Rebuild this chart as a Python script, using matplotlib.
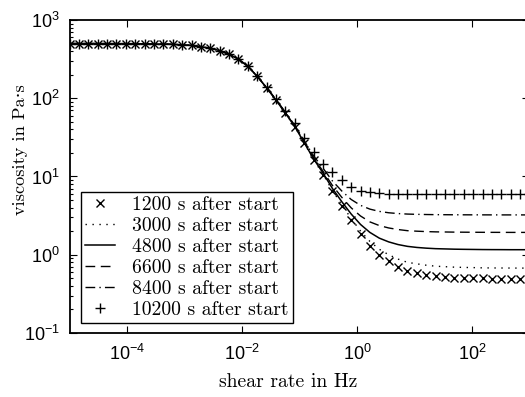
import numpy as np
import matplotlib
matplotlib.use("Agg")
import matplotlib.pyplot as plt
from matplotlib.ticker import NullLocator, FixedLocator, LogFormatterSciNotation, LogLocator

# ---------------- data ----------------
log_shear_rate = [-5.0, -4.837, -4.673, -4.510, -4.347, -4.184, -4.020, -3.857, -3.694, -3.531,
                  -3.367, -3.204, -3.041, -2.878, -2.714, -2.551, -2.388, -2.224, -2.061, -1.898,
                  -1.735, -1.571, -1.408, -1.245, -1.082, -0.918, -0.755, -0.592, -0.429, -0.265,
                  -0.102, 0.061, 0.224, 0.388, 0.551, 0.714, 0.878, 1.041, 1.204, 1.367,
                  1.531, 1.694, 1.857, 2.020, 2.184, 2.347, 2.510, 2.673, 2.837, 3.0]

visc_1200 = [500, 500, 500, 500, 499, 499, 499, 498, 497, 495,
             492, 488, 482, 473, 456, 436, 405, 365, 315, 255,
             190, 135, 94, 64, 43, 26.5, 16.3, 10.6, 6.5, 4.2,
             2.75, 1.85, 1.31, 1.0, 0.82, 0.70, 0.62, 0.58, 0.55, 0.53,
             0.52, 0.51, 0.505, 0.50, 0.50, 0.495, 0.495, 0.49, 0.49, 0.49]

visc_3000 = [500, 500, 500, 500, 499, 499, 499, 498, 497, 495,
             492, 488, 482, 473, 456, 436, 405, 365, 315, 255,
             190, 135, 94.1, 64.2, 43.2, 26.7, 16.4, 10.7, 6.66, 4.36,
             2.91, 2.01, 1.48, 1.175, 1.0, 0.88, 0.80, 0.765, 0.735, 0.714,
             0.704, 0.694, 0.689, 0.685, 0.68, 0.678, 0.677, 0.676, 0.675, 0.675]

visc_4800 = [500, 500, 500, 500, 499, 499, 499, 498, 497, 495,
             492, 488, 482, 473, 456.1, 436.1, 405.1, 365.2, 315.3, 255.3,
             190.4, 135.5, 94.6, 64.6, 43.5, 27.0, 16.8, 11.1, 7.06, 4.77,
             3.32, 2.44, 1.93, 1.63, 1.46, 1.35, 1.28, 1.24, 1.214, 1.196,
             1.187, 1.178, 1.173, 1.169, 1.165, 1.163, 1.162, 1.16, 1.16, 1.16]

visc_6600 = [500, 500, 500, 500, 499, 499, 499, 498, 497, 495,
             492, 488, 482, 473, 456.1, 436.2, 405.3, 365.4, 315.5, 255.7,
             190.9, 136.0, 95.2, 65.3, 44.1, 27.6, 17.4, 11.7, 7.71, 5.42,
             3.98, 3.13, 2.63, 2.36, 2.20, 2.10, 2.03, 2.00, 1.977, 1.961,
             1.954, 1.946, 1.942, 1.938, 1.935, 1.933, 1.932, 1.93, 1.93, 1.93]

visc_8400 = [500, 500, 500, 500, 499, 499, 499, 498, 497, 495,
             492, 488, 482, 473.1, 456.2, 436.4, 405.5, 365.7, 316.0, 256.3,
             191.7, 137.0, 96.2, 66.4, 45.1, 28.6, 18.4, 12.8, 8.8, 6.53,
             5.09, 4.28, 3.83, 3.58, 3.44, 3.36, 3.31, 3.284, 3.266, 3.254,
             3.248, 3.242, 3.239, 3.236, 3.234, 3.232, 3.23, 3.23, 3.23, 3.23]

visc_10200 = [500, 500, 500, 500, 499, 499, 499, 498, 497, 495,
              492, 488, 482, 473.3, 456.5, 436.7, 406.0, 366.5, 317.0, 257.7,
              193.4, 139.0, 98.4, 68.7, 48.0, 31.0, 20.5, 14.6, 11.4, 8.9,
              7.3, 6.6, 6.3, 6.1, 6.0, 5.95, 5.93, 5.92, 5.91, 5.9,
              5.9, 5.9, 5.9, 5.9, 5.9, 5.9, 5.9, 5.9, 5.9, 5.9]

series_labels = ["1200 s after start", "3000 s after start", "4800 s after start",
                 "6600 s after start", "8400 s after start", "10200 s after start"]

x_tick_values = [1e-4, 1e-2, 1e0, 1e2]
y_tick_values = [1e-1, 1e0, 1e1, 1e2, 1e3]

# ---------------- styling ----------------
plt.rcParams["mathtext.fontset"] = "custom"
plt.rcParams["mathtext.rm"] = "Liberation Sans"
plt.rcParams["mathtext.it"] = "Liberation Sans:italic"
plt.rcParams["mathtext.bf"] = "Liberation Sans:bold"
plt.rcParams["font.family"] = ["Liberation Sans", "DejaVu Sans"]
serif = ["cmr10", "DejaVu Serif"]

shear_rate = 10 ** np.array(log_shear_rate)

fig = plt.figure(figsize=(5.25, 3.97), dpi=100)
W, H = 525.0, 397.0
ax = fig.add_axes([69.5 / W, 1 - 333 / H, 460 / W, 313 / H])

ax.plot(shear_rate, visc_1200, ls="none", marker="x", ms=5.5, mew=1.0, color="k",
        label=series_labels[0], zorder=4)
ax.plot(shear_rate, visc_3000, ls=(0, (1, 4)), lw=1.0, color="k", label=series_labels[1])
ax.plot(shear_rate, visc_4800, ls="-", lw=1.1, color="k", label=series_labels[2])
ax.plot(shear_rate, visc_6600, ls=(0, (7, 4)), lw=1.0, color="k", label=series_labels[3])
ax.plot(shear_rate, visc_8400, ls=(0, (7, 3, 1, 3)), lw=1.0, color="k", label=series_labels[4])
ax.plot(shear_rate, visc_10200, ls="none", marker="+", ms=7, mew=1.0, color="k",
        label=series_labels[5], zorder=4)

ax.set_xscale("log")
ax.set_yscale("log")
ax.set_xlim(1e-5, 1e3)
ax.set_ylim(1e-1, 1e3)

ax.xaxis.set_major_locator(FixedLocator(x_tick_values))
ax.xaxis.set_major_formatter(LogFormatterSciNotation())
ax.xaxis.set_minor_locator(NullLocator())
ax.yaxis.set_major_locator(FixedLocator(y_tick_values))
ax.yaxis.set_major_formatter(LogFormatterSciNotation())
ax.yaxis.set_minor_locator(LogLocator(base=10, subs=np.arange(2, 10)))

ax.tick_params(which="both", direction="in", top=True, right=True, width=0.8, colors="k")
ax.tick_params(which="major", length=5, labelsize=13)
ax.tick_params(which="minor", length=2.5)
ax.tick_params(axis="x", pad=8)
ax.tick_params(axis="y", pad=7)

for s in ax.spines.values():
    s.set_linewidth(1.3)
    s.set_color("k")

ax.set_xlabel("shear rate in Hz", fontfamily=serif, fontsize=14.2)
ax.xaxis.label.set_va("center")
ax.xaxis.set_label_coords(0.475, -0.156)
ax.set_ylabel("viscosity in Pa·s", fontfamily=serif, fontsize=13.2)
ax.yaxis.label.set_va("center")
ax.yaxis.label.set_ha("center")
ax.yaxis.label.set_rotation_mode("default")
ax.yaxis.set_label_coords(-0.1076, 0.585)

leg = ax.legend(loc="lower left", bbox_to_anchor=(81 / W, 1 - 323 / H),
                bbox_transform=fig.transFigure, prop={"family": serif, "size": 14.2},
                frameon=True, fancybox=False, edgecolor="k", framealpha=1,
                borderaxespad=0, handlelength=1.5, handletextpad=0.9,
                labelspacing=0.16, borderpad=0.2, numpoints=1)
leg.get_frame().set_linewidth(1.0)

fig.savefig("out.png", dpi=100)
